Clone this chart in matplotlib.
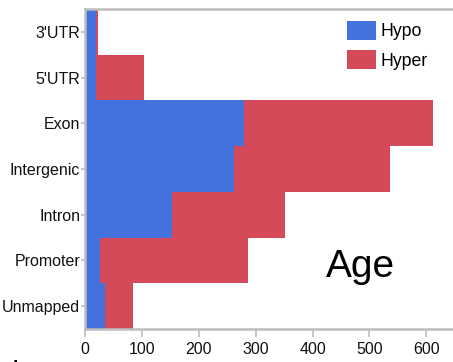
import matplotlib.pyplot as plt
import numpy as np

plt.rcParams['font.family'] = ['Liberation Sans', 'DejaVu Sans']

categories = ["3'UTR", "5'UTR", 'Exon', 'Intergenic', 'Intron', 'Promoter', 'Unmapped']
hypo = [19, 19, 280, 262, 153, 26, 36]
hyper = [3, 84, 332, 274, 199, 260, 48]
xticks = [0, 100, 200, 300, 400, 500, 600]

blue = '#4472DC'
red = '#D44A58'
grey = '#BDBDBD'

fig = plt.figure(figsize=(4.53, 3.62), dpi=100)
ax = fig.add_axes([85 / 453, 33 / 362, 368 / 453, 320 / 362])

ind = np.arange(len(categories))
ax.barh(ind, hypo, height=1.0, color=blue, label='Hypo', linewidth=0)
ax.barh(ind, hyper, height=1.0, left=hypo, color=red, label='Hyper', linewidth=0)

ax.set_xlim(0, 647)
ax.set_ylim(len(categories) - 0.5, -0.5)
ax.set_yticks(ind)
ax.set_yticklabels(categories)
ax.set_xticks(xticks)

for side in ['left', 'bottom', 'top']:
    ax.spines[side].set_color(grey)
    ax.spines[side].set_linewidth(1.8)
ax.spines['right'].set_visible(False)
ax.tick_params(axis='both', colors=grey, labelcolor='#111111', labelsize=11.5,
               width=1.2)
ax.tick_params(axis='x', length=6, pad=3)
ax.tick_params(axis='y', length=3, pad=0.5)

leg = ax.legend(loc='upper left', bbox_to_anchor=(347 / 453, 1 - 21 / 362),
                bbox_transform=fig.transFigure, frameon=False, fontsize=12.7,
                handlelength=1.65, handleheight=1.25, labelspacing=0.57,
                handletextpad=0.25, borderpad=0, borderaxespad=0)

ax.text(0.655, 0.1625, 'Age', transform=ax.transAxes, fontsize=28,
        color='black', va='baseline', ha='left')

# cropped panel letter at the bottom-left corner
fig.text(13 / 453, -0.03, 'b', fontsize=14, fontweight='bold', va='baseline')

fig.savefig('out.png', dpi=100)
